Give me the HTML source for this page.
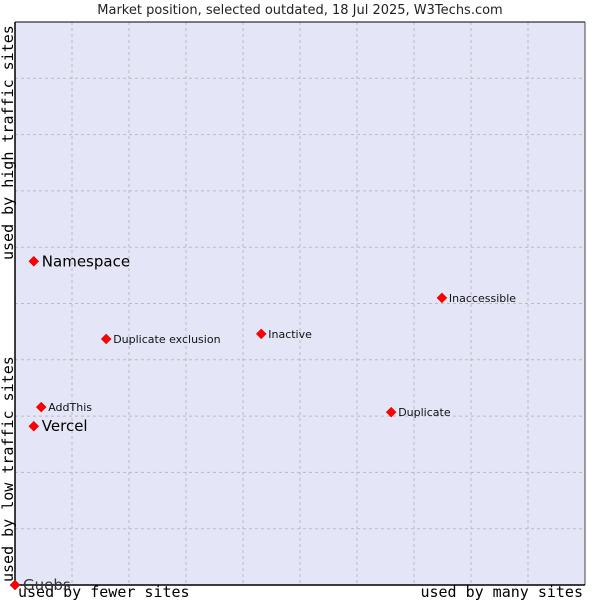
<!DOCTYPE html>
<html><head><meta charset="utf-8"><style>
body{margin:0;background:#fff;font-family:"DejaVu Sans","Liberation Sans",sans-serif}
</style></head><body>
<svg width="600" height="600" id="c">
<text x="300" y="14" text-anchor="middle" font-size="13" fill="#222">Market position, selected outdated, 18 Jul 2025, W3Techs.com</text>
<rect x="15" y="22" width="570" height="563" fill="#e4e6f8" stroke="none"/>
<g id="grid"></g>
<line x1="15" y1="22" x2="585" y2="22" stroke="#000"/>
<line x1="585" y1="22" x2="585" y2="585" stroke="#444"/>
<line x1="15" y1="22" x2="15" y2="585" stroke="#000" stroke-width="1.5"/>
<line x1="15" y1="585" x2="585" y2="585" stroke="#000" stroke-width="1.5"/>
<g font-family="'DejaVu Sans Mono','Liberation Mono',monospace" font-size="15" fill="#000">
<text x="18" y="597">used by fewer sites</text>
<text x="583" y="597" text-anchor="end">used by many sites</text>
<text transform="translate(13,582) rotate(-90)">used by low traffic sites</text>
<text transform="translate(13,260) rotate(-90)">used by high traffic sites</text>
</g>
<g id="pts"></g>
</svg>
<script>
const names=["Namespace","Inaccessible","Duplicate exclusion","Inactive","AddThis","Vercel","Duplicate","Guebs"];
const xVals=[3.3,74.9,16.0,43.2,4.6,3.3,66.0,0];
const yVals=[57.5,51.0,43.7,44.6,31.6,28.2,30.7,0];
const bigLabel=[true,false,false,false,false,true,false,true];
const X=v=>15+v*5.7, Y=v=>585-v*5.63;
const NS="http://www.w3.org/2000/svg";
const g=document.getElementById('grid');
for(let i=1;i<10;i++){
 const l=document.createElementNS(NS,'line');
 l.setAttribute('x1',X(i*10));l.setAttribute('x2',X(i*10));l.setAttribute('y1',22);l.setAttribute('y2',585);
 l.setAttribute('stroke','#bbb');l.setAttribute('stroke-dasharray','3,3');
 
 
 g.appendChild(l);
 const h=document.createElementNS(NS,'line');
 h.setAttribute('y1',Y(i*10));h.setAttribute('y2',Y(i*10));h.setAttribute('x1',15);h.setAttribute('x2',585);
 h.setAttribute('stroke','#bbb');h.setAttribute('stroke-dasharray','3,3');
 
 
 g.appendChild(h);
}
const p=document.getElementById('pts');
names.forEach((n,i)=>{
 const x=X(xVals[i]),y=Y(yVals[i]);
 const d=document.createElementNS(NS,'path');
 d.setAttribute('d',`M${x} ${y-5}L${x+5} ${y}L${x} ${y+5}L${x-5} ${y}Z`);
 d.setAttribute('fill','#f00');d.setAttribute('stroke','#c00');d.setAttribute('stroke-width','0.5');
 
 
 p.appendChild(d);
 const t=document.createElementNS(NS,'text');
 t.setAttribute('x',x+(bigLabel[i]?8:7));t.setAttribute('y',y+(bigLabel[i]?5:4));
 t.setAttribute('font-size',bigLabel[i]?15:11);
 t.setAttribute('fill',bigLabel[i]?'#000':'#111');
 if(n==="Guebs")t.setAttribute('fill','#333');
 t.textContent=n;
 
 
 p.appendChild(t);
});
</script>
</body></html>
